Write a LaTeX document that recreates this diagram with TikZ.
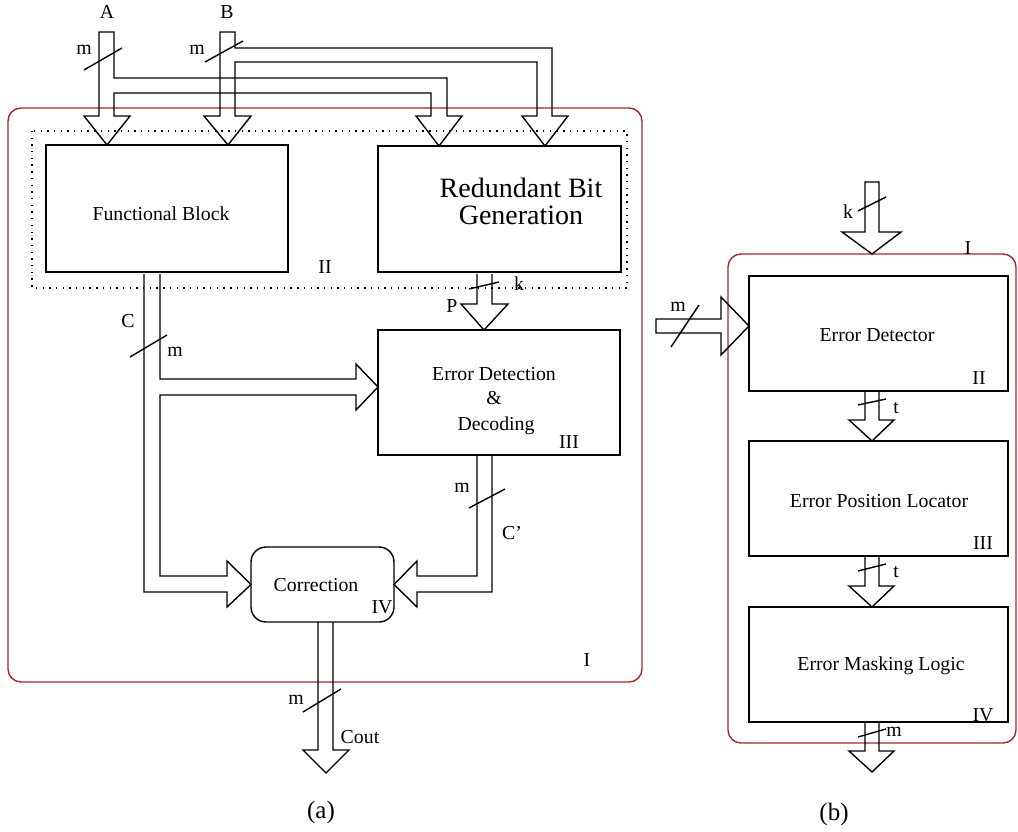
\documentclass[tikz,border=0pt]{standalone}
\usepackage{fontspec}
\setmainfont{Liberation Serif}
\definecolor{frame}{RGB}{165,40,45}
\tikzset{
  box/.style={draw, line width=1.4pt, inner sep=0pt, outer sep=0pt, anchor=north west},
  bus/.style={draw, line width=1.4pt, line join=miter},
  slash/.style={draw, line width=1.4pt},
  frameline/.style={draw=frame, line width=1.4pt, rounded corners=13pt},
  dotbox/.style={draw, line width=1.4pt, dash pattern=on 1.4pt off 5.3pt},
  txt/.style={font=\fontsize{19.8}{22}\selectfont, inner sep=0pt},
  captxt/.style={font=\fontsize{25}{28}\selectfont, inner sep=0pt},
  bigtxt/.style={font=\fontsize{28}{27}\selectfont, inner sep=0pt, align=center}
}
\begin{document}
\begin{tikzpicture}[x=1pt,y=-1pt]
\useasboundingbox (0,0) rectangle (1018,832);

% frames
\draw[frameline] (8,108) rectangle (642,682);
\draw[frameline] (728,254) rectangle (1016,743);
\draw[dotbox] (32,131) rectangle (627,288);

% ---------------- (a) boxes
\node[box, minimum width=242pt, minimum height=127pt] (fb) at (46,145) {};
\node[txt] (fbt) at (161,214) {Functional Block};
\node[box, minimum width=243pt, minimum height=126pt] (rbg) at (378,146) {};
\node[bigtxt] (rbgt) at (521,201) {Redundant Bit\\Generation};
\node[box, minimum width=242pt, minimum height=125pt] (edd) at (378,330) {};
\node[txt] (edd1) at (494,374) {Error Detection};
\node[txt] (edd2) at (494,398) {\&};
\node[txt] (edd3) at (496,426) {Decoding};
\node[box, rounded corners=15pt, minimum width=143pt, minimum height=75pt] (corr) at (251,547) {};
\node[txt] (corrt) at (316,585) {Correction};

\node[txt] (n2a) at (325,267) {II};
\node[txt] (n3a) at (569,442) {III};
\node[txt] (n4a) at (382,607) {IV};
\node[txt] (n1a) at (587,660) {I};

% ---------------- input buses A and B
\draw[bus] (99,32) -- (99,116) -- (84,116) -- (107,0 |- fb.north) -- (130,116) -- (114,116)
  -- (114,93) -- (431,93) -- (431,116) -- (416,116) -- (439,0 |- rbg.north) -- (462,116) -- (447,116)
  -- (447,78) -- (114,78) -- (114,32) -- cycle;
\draw[bus] (220,32) -- (220,116) -- (204,116) -- (228,0 |- fb.north) -- (251,116) -- (235,116)
  -- (235,62) -- (537,62) -- (537,116) -- (522,116) -- (545,0 |- rbg.north) -- (568,116) -- (552,116)
  -- (552,48) -- (235,48) -- (235,32) -- cycle;
\draw[slash] (84,70) -- (122,48);
\draw[slash] (205,62) -- (243,41);
\node[txt] (la) at (107,12) {A};
\node[txt] (lb) at (227,12) {B};
\node[txt] (ma) at (84,50) {m};
\node[txt] (mb) at (197,50) {m};

% ---------------- C bus
\draw[bus] (144,274) -- (144,592) -- (227,592) -- (227,607) -- (corr.west) -- (227,561) -- (227,576)
  -- (160,576) -- (160,395) -- (356,395) -- (356,410) -- (edd.west |- 0,387) -- (356,364) -- (356,379)
  -- (160,379) -- (160,274);
\draw[slash] (130,357) -- (167,335);
\node[txt] (lc) at (128,321) {C};
\node[txt] (mc) at (175,352) {m};

% ---------------- P bus
\draw[bus] (477,274) -- (477,304) -- (461,304) -- (484,0 |- edd.north) -- (508,304) -- (492,304) -- (492,274);
\draw[slash] (469,289) -- (499,282);
\node[txt] (lk) at (519,284) {k};
\node[txt] (lp) at (452,306) {P};

% ---------------- C' bus
\draw[bus] (477,455) -- (477,576) -- (417,576) -- (417,561) -- (corr.east) -- (417,607) -- (417,592)
  -- (492,592) -- (492,455);
\draw[slash] (469,508) -- (505,489);
\node[txt] (mcp) at (462,488) {m};
\node[txt] (lcp) at (512,533) {C'};

% ---------------- Cout bus
\draw[bus] (318,622) -- (318,750) -- (303,750) -- (326,773) -- (349,750) -- (333,750) -- (333,622);
\draw[slash] (303,712) -- (341,689);
\node[txt] (mco) at (296,700) {m};
\node[txt] (lco) at (360,737) {Cout};
\node[captxt] (capa) at (321,812) {(a)};

% ---------------- (b)
\node[box, minimum width=259pt, minimum height=115pt] (ed) at (749,276) {};
\node[txt] (edt) at (877,335) {Error Detector};
\node[box, minimum width=259pt, minimum height=115pt] (epl) at (749,441) {};
\node[txt] (eplt) at (879,501) {Error Position Locator};
\node[box, minimum width=259pt, minimum height=115pt] (eml) at (749,607) {};
\node[txt] (emlt) at (881,666) {Error Masking Logic};
\node[txt] (n1b) at (968,248) {I};
\node[txt] (n2b) at (979,378) {II};
\node[txt] (n3b) at (983,543) {III};
\node[txt] (n4b) at (983,715) {IV};

% k input
\draw[bus] (865,182) -- (865,232) -- (842,232) -- (872,0 |- 0,254) -- (901,232) -- (879,232) -- (879,182) -- cycle;
\draw[slash] (858,211) -- (886,197);
\node[txt] (lkb) at (848,212) {k};
% m input
\draw[bus] (656,319) -- (721,319) -- (721,297) -- (ed.west |- 0,326) -- (721,355) -- (721,333) -- (656,333) -- cycle;
\draw[slash] (671,347) -- (699,305);
\node[txt] (lmb) at (678,307) {m};
% t buses
\draw[bus] (865,391) -- (865,420) -- (849,420) -- (872,0 |- epl.north) -- (894,420) -- (879,420) -- (879,391);
\draw[slash] (858,405) -- (886,399);
\node[txt] (lt1) at (896,408) {t};
\draw[bus] (865,556) -- (865,586) -- (849,586) -- (872,0 |- eml.north) -- (894,586) -- (879,586) -- (879,556);
\draw[slash] (858,571) -- (886,564);
\node[txt] (lt2) at (896,572) {t};
% out
\draw[bus] (865,722) -- (865,751) -- (849,751) -- (872,772) -- (894,751) -- (879,751) -- (879,722);
\draw[slash] (858,737) -- (886,729);
\node[txt] (lmo) at (894,732) {m};
\node[captxt] (capb) at (834,814) {(b)};
\end{tikzpicture}
\end{document}
